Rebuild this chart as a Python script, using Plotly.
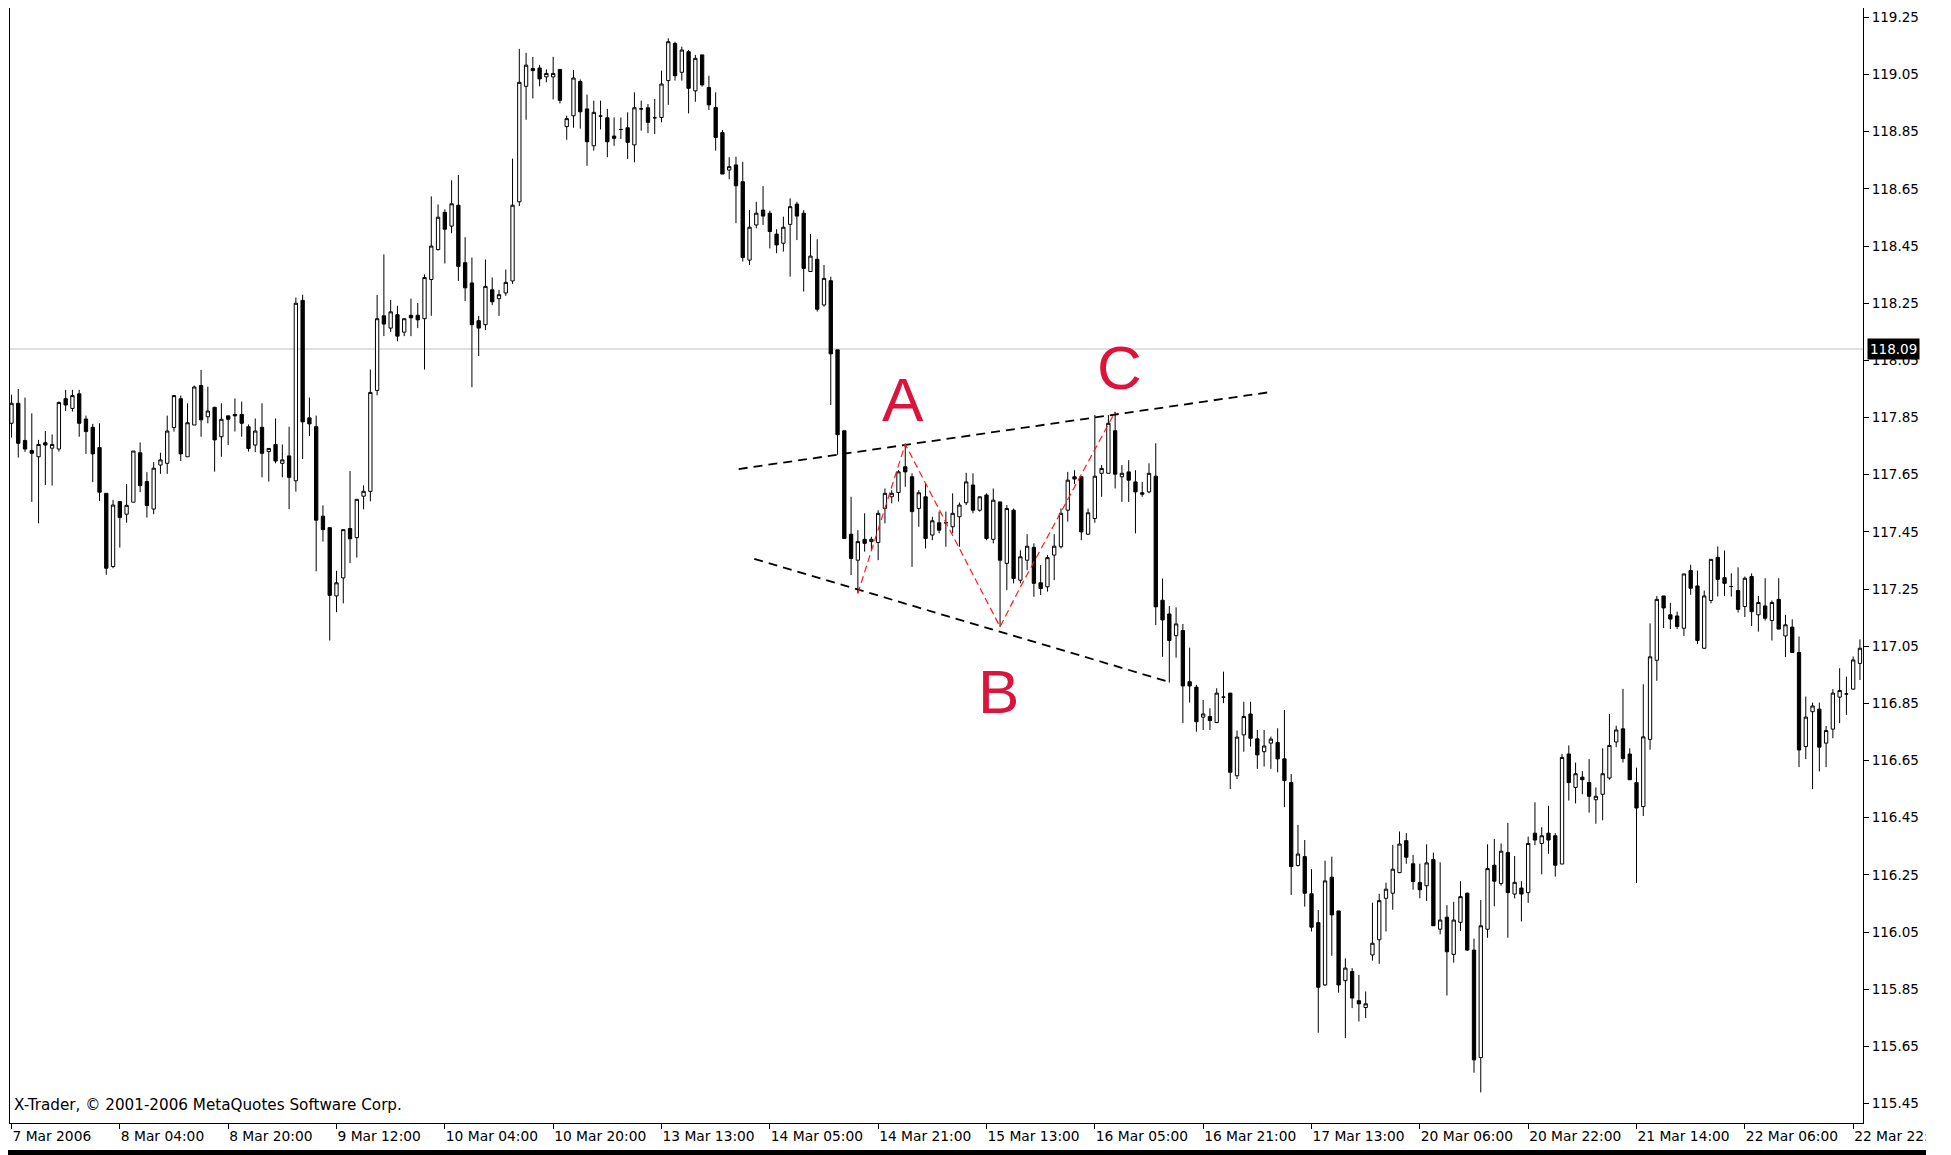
import plotly.graph_objects as go

# Hourly USDJPY-style candles (bar index 0..273)
OPEN = [
    117.83, 117.90, 117.77, 117.735, 117.713, 117.762, 117.743, 117.74, 117.916, 117.882,
    117.933, 117.845, 117.816, 117.745, 117.585, 117.329, 117.556, 117.512, 117.554, 117.727,
    117.626, 117.53, 117.684, 117.69, 117.815, 117.916, 117.713, 117.824, 117.962, 117.853,
    117.886, 117.783, 117.856, 117.861, 117.861, 117.818, 117.754, 117.816, 117.731, 117.756,
    117.69, 117.716, 117.629, 118.26, 117.849, 117.818, 117.505, 117.465, 117.226, 117.289,
    117.462, 117.43, 117.575, 117.592, 117.945, 118.206, 118.163, 118.21, 118.149, 118.208,
    118.208, 118.196, 118.333, 118.438, 118.568, 118.52, 118.593, 118.392, 118.321, 118.189,
    118.175, 118.297, 118.266, 118.286, 118.328, 118.605, 119.009, 119.071, 119.073, 119.042,
    119.042, 119.068, 118.868, 118.906, 119.026, 118.93, 118.801, 118.905, 118.899, 118.835,
    118.858, 118.864, 118.804, 118.93, 118.934, 118.899, 118.90, 119.029, 119.159, 119.058,
    119.13, 118.993, 119.119, 119.005, 118.935, 118.847, 118.716, 118.734, 118.675, 118.401,
    118.524, 118.576, 118.565, 118.492, 118.46, 118.526, 118.597, 118.565, 118.361, 118.404,
    118.244, 118.329, 118.087, 117.804, 117.442, 117.351, 117.424, 117.416, 117.413, 117.532,
    117.573, 117.588, 117.678, 117.643, 117.532, 117.573, 117.439, 117.482, 117.482, 117.468,
    117.503, 117.552, 117.614, 117.526, 117.579, 117.424, 117.555, 117.34, 117.526, 117.281,
    117.351, 117.396, 117.272, 117.258, 117.369, 117.398, 117.526, 117.643, 117.643, 117.442,
    117.497, 117.655, 117.655, 117.804, 117.643, 117.66, 117.625, 117.587, 117.59, 117.645,
    117.211, 117.163, 117.087, 117.105, 116.926, 116.907, 116.802, 116.804, 116.783, 116.872,
    116.886, 116.597, 116.74, 116.813, 116.726, 116.681, 116.711, 116.713, 116.656, 116.573,
    116.283, 116.314, 116.184, 116.083, 115.865, 116.242, 116.124, 115.88, 115.912, 115.81,
    115.786, 115.97, 116.023, 116.168, 116.186, 116.258, 116.37, 116.289, 116.223, 116.212,
    116.304, 116.06, 116.102, 115.972, 116.084, 116.186, 115.987, 115.611, 116.06, 116.284,
    116.22, 116.328, 116.183, 116.204, 116.188, 116.396, 116.36, 116.396, 116.387, 116.288,
    116.673, 116.556, 116.592, 116.573, 116.513, 116.532, 116.589, 116.715, 116.761, 116.673,
    116.573, 116.489, 116.724, 117.001, 117.226, 117.16, 117.156, 117.113, 117.315, 117.261,
    117.043, 117.21, 117.361, 117.29, 117.259, 117.245, 117.189, 117.294, 117.16, 117.191,
    117.14, 117.214, 117.086, 117.117, 117.028, 116.699, 116.821, 116.83, 116.711, 116.76,
    116.872, 116.883, 116.90, 116.99,
]
HIGH = [
    117.93, 117.95, 117.92, 117.865, 117.772, 117.803, 117.791, 117.906, 117.947, 117.947,
    117.947, 117.857, 117.828, 117.83, 117.585, 117.562, 117.556, 117.617, 117.733, 117.763,
    117.659, 117.694, 117.727, 117.857, 117.927, 117.927, 117.90, 117.962, 118.017, 117.958,
    117.888, 117.90, 117.856, 117.917, 117.906, 117.826, 117.847, 117.90, 117.742, 117.847,
    117.756, 117.818, 118.27, 118.28, 117.92, 117.857, 117.543, 117.465, 117.314, 117.458,
    117.663, 117.564, 117.613, 118.018, 118.279, 118.421, 118.262, 118.241, 118.196, 118.266,
    118.251, 118.351, 118.624, 118.596, 118.579, 118.68, 118.699, 118.481, 118.41, 118.206,
    118.403, 118.34, 118.297, 118.368, 118.756, 119.14, 119.126, 119.112, 119.084, 119.068,
    119.112, 119.068, 118.906, 119.066, 119.033, 118.98, 118.959, 118.959, 118.93, 118.90,
    118.90, 118.918, 118.988, 118.959, 118.947, 118.965, 119.064, 119.177, 119.165, 119.148,
    119.136, 119.119, 119.119, 119.046, 118.988, 118.856, 118.761, 118.763, 118.745, 118.576,
    118.605, 118.66, 118.574, 118.509, 118.553, 118.617, 118.605, 118.576, 118.492, 118.474,
    118.384, 118.343, 118.087, 117.804, 117.573, 117.456, 117.515, 117.433, 117.526, 117.602,
    117.596, 117.666, 117.76, 117.655, 117.596, 117.62, 117.503, 117.521, 117.521, 117.585,
    117.553, 117.657, 117.655, 117.573, 117.585, 117.602, 117.555, 117.544, 117.532, 117.386,
    117.442, 117.41, 117.334, 117.369, 117.442, 117.532, 117.66, 117.666, 117.643, 117.532,
    117.859, 117.684, 117.859, 117.87, 117.684, 117.701, 117.666, 117.625, 117.69, 117.76,
    117.287, 117.191, 117.186, 117.128, 117.045, 116.915, 116.862, 116.833, 116.903, 116.961,
    116.886, 116.755, 116.856, 116.856, 116.757, 116.757, 116.734, 116.763, 116.827, 116.603,
    116.425, 116.372, 116.27, 116.127, 116.30, 116.314, 116.124, 115.958, 115.924, 115.90,
    115.842, 116.153, 116.184, 116.223, 116.355, 116.402, 116.396, 116.32, 116.289, 116.357,
    116.328, 116.294, 116.144, 116.156, 116.228, 116.188, 116.027, 116.162, 116.357, 116.376,
    116.36, 116.432, 116.316, 116.228, 116.384, 116.504, 116.417, 116.492, 116.396, 116.673,
    116.703, 116.643, 116.613, 116.655, 116.556, 116.693, 116.813, 116.772, 116.901, 116.693,
    116.625, 116.917, 117.13, 117.226, 117.226, 117.202, 117.171, 117.303, 117.335, 117.315,
    117.245, 117.354, 117.399, 117.385, 117.305, 117.326, 117.294, 117.305, 117.226, 117.288,
    117.21, 117.288, 117.16, 117.144, 117.084, 116.874, 116.853, 116.853, 116.771, 116.90,
    116.973, 116.944, 117.014, 117.074,
]
LOW = [
    117.78, 117.71, 117.73, 117.555, 117.48, 117.614, 117.612, 117.731, 117.873, 117.871,
    117.783, 117.723, 117.624, 117.558, 117.30, 117.323, 117.395, 117.482, 117.554, 117.589,
    117.50, 117.512, 117.653, 117.653, 117.801, 117.698, 117.713, 117.824, 117.783, 117.83,
    117.661, 117.713, 117.754, 117.801, 117.783, 117.731, 117.729, 117.641, 117.626, 117.69,
    117.641, 117.53, 117.591, 117.705, 117.785, 117.312, 117.416, 117.07, 117.169, 117.20,
    117.341, 117.36, 117.529, 117.557, 117.928, 118.135, 118.149, 118.117, 118.135, 118.135,
    118.163, 118.018, 118.206, 118.434, 118.389, 118.495, 118.328, 118.258, 117.956, 118.065,
    118.156, 118.244, 118.206, 118.276, 118.318, 118.59, 118.892, 118.967, 119.009, 119.023,
    118.963, 118.949, 118.822, 118.864, 118.861, 118.731, 118.784, 118.858, 118.761, 118.801,
    118.825, 118.755, 118.743, 118.854, 118.845, 118.842, 118.883, 118.944, 119.029, 119.029,
    118.914, 118.955, 119.008, 118.926, 118.784, 118.702, 118.684, 118.53, 118.396, 118.384,
    118.512, 118.524, 118.442, 118.425, 118.431, 118.343, 118.471, 118.291, 118.361, 118.221,
    118.238, 117.894, 117.72, 117.427, 117.299, 117.235, 117.381, 117.386, 117.351, 117.48,
    117.55, 117.556, 117.608, 117.328, 117.468, 117.392, 117.421, 117.445, 117.398, 117.445,
    117.398, 117.544, 117.515, 117.521, 117.421, 117.41, 117.118, 117.246, 117.27, 117.27,
    117.316, 117.223, 117.229, 117.241, 117.281, 117.392, 117.486, 117.617, 117.421, 117.439,
    117.482, 117.573, 117.655, 117.602, 117.555, 117.555, 117.445, 117.573, 117.585, 117.124,
    117.013, 116.923, 117.01, 116.781, 116.853, 116.751, 116.757, 116.757, 116.781, 116.851,
    116.55, 116.585, 116.681, 116.699, 116.621, 116.629, 116.621, 116.609, 116.487, 116.18,
    116.279, 116.139, 116.052, 115.698, 115.862, 115.967, 115.838, 115.679, 115.784, 115.737,
    115.749, 115.95, 115.939, 116.052, 116.128, 116.256, 116.289, 116.198, 116.168, 116.159,
    116.072, 116.042, 115.828, 115.943, 116.054, 115.984, 115.558, 115.489, 116.03, 116.14,
    116.212, 116.03, 116.168, 116.087, 116.152, 116.354, 116.252, 116.324, 116.244, 116.288,
    116.51, 116.50, 116.532, 116.468, 116.429, 116.441, 116.583, 116.697, 116.643, 116.583,
    116.222, 116.456, 116.688, 116.929, 117.114, 117.11, 117.11, 117.086, 117.23, 117.058,
    117.041, 117.20, 117.224, 117.226, 117.224, 117.168, 117.152, 117.121, 117.101, 117.14,
    117.07, 117.11, 117.012, 117.028, 116.627, 116.655, 116.55, 116.612, 116.627, 116.728,
    116.781, 116.81, 116.897, 116.932,
]
CLOSE = [
    117.90, 117.76, 117.74, 117.725, 117.756, 117.754, 117.756, 117.903, 117.894, 117.927,
    117.83, 117.801, 117.723, 117.589, 117.323, 117.544, 117.50, 117.543, 117.733, 117.612,
    117.542, 117.673, 117.702, 117.803, 117.927, 117.723, 117.832, 117.957, 117.842, 117.873,
    117.772, 117.844, 117.844, 117.856, 117.83, 117.742, 117.803, 117.725, 117.742, 117.698,
    117.702, 117.641, 118.25, 117.835, 117.828, 117.491, 117.458, 117.228, 117.272, 117.458,
    117.426, 117.564, 117.592, 117.938, 118.196, 118.177, 118.22, 118.135, 118.196, 118.199,
    118.192, 118.34, 118.45, 118.551, 118.509, 118.598, 118.379, 118.304, 118.175, 118.163,
    118.309, 118.255, 118.28, 118.323, 118.593, 119.023, 119.083, 119.064, 119.035, 119.054,
    119.054, 118.96, 118.896, 119.038, 118.92, 118.815, 118.918, 118.905, 118.815, 118.827,
    118.858, 118.813, 118.934, 118.93, 118.883, 118.899, 119.017, 119.165, 119.046, 119.136,
    119.002, 119.107, 119.014, 118.944, 118.83, 118.702, 118.728, 118.661, 118.41, 118.516,
    118.565, 118.555, 118.501, 118.454, 118.516, 118.588, 118.555, 118.372, 118.415, 118.229,
    118.337, 118.073, 117.79, 117.427, 117.357, 117.416, 117.41, 117.424, 117.515, 117.585,
    117.585, 117.66, 117.66, 117.521, 117.587, 117.427, 117.489, 117.456, 117.482, 117.515,
    117.544, 117.625, 117.526, 117.573, 117.427, 117.561, 117.351, 117.532, 117.287, 117.363,
    117.40, 117.27, 117.252, 117.36, 117.40, 117.515, 117.631, 117.635, 117.45, 117.517,
    117.645, 117.672, 117.83, 117.652, 117.655, 117.631, 117.59, 117.582, 117.655, 117.188,
    117.142, 117.07, 117.128, 116.911, 116.911, 116.786, 116.813, 116.79, 116.886, 116.872,
    116.609, 116.732, 116.804, 116.728, 116.67, 116.701, 116.725, 116.656, 116.58, 116.279,
    116.323, 116.186, 116.067, 115.857, 116.229, 116.11, 115.865, 115.924, 115.819, 115.799,
    115.799, 116.011, 116.16, 116.20, 116.27, 116.358, 116.312, 116.227, 116.198, 116.292,
    116.072, 116.092, 115.981, 116.092, 116.174, 115.987, 115.603, 116.072, 116.272, 116.228,
    116.333, 116.188, 116.224, 116.183, 116.36, 116.372, 116.387, 116.372, 116.284, 116.661,
    116.573, 116.604, 116.583, 116.525, 116.525, 116.604, 116.703, 116.757, 116.657, 116.583,
    116.484, 116.733, 117.013, 117.214, 117.184, 117.145, 117.119, 117.303, 117.253, 117.07,
    117.226, 117.354, 117.284, 117.27, 117.259, 117.179, 117.288, 117.171, 117.203, 117.148,
    117.203, 117.11, 117.125, 117.028, 116.687, 116.802, 116.841, 116.697, 116.755, 116.886,
    116.895, 116.883, 117.002, 117.043,
]
BARS = list(range(len(OPEN)))

TICK_BARS = [0, 16, 32, 48, 64, 80, 96, 112, 128, 144, 160, 176, 192, 208, 224, 240, 256, 272]
TICK_TEXT = [
    "7 Mar 2006", "8 Mar 04:00", "8 Mar 20:00", "9 Mar 12:00", "10 Mar 04:00", "10 Mar 20:00",
    "13 Mar 13:00", "14 Mar 05:00", "14 Mar 21:00", "15 Mar 13:00", "16 Mar 05:00", "16 Mar 21:00",
    "17 Mar 13:00", "20 Mar 06:00", "20 Mar 22:00", "21 Mar 14:00", "22 Mar 06:00", "22 Mar 22:00",
]
PRICE_TICKS = [
    115.45, 115.65, 115.85, 116.05, 116.25, 116.45, 116.65, 116.85, 117.05, 117.25,
    117.45, 117.65, 117.85, 118.05, 118.25, 118.45, 118.65, 118.85, 119.05, 119.25,
]
LAST_PRICE = 118.09

# hand-drawn analysis objects (bar index, price)
UPPER_X = [107.4, 186.1]
UPPER_Y = [117.670, 117.940]
LOWER_X = [109.7, 171.0]
LOWER_Y = [117.356, 116.925]
WAVE_X = [125, 132, 146, 149, 163]
WAVE_Y = [117.235, 117.757, 117.118, 117.257, 117.870]
WAVE_LABELS = ["A", "B", "C"]
WAVE_LABEL_X = [131.7, 145.8, 163.6]
WAVE_LABEL_Y = [117.914, 116.890, 118.025]

INK = "black"
FONT = "DejaVu Sans"
LABEL_RED = "#dc143c"

fig = go.Figure()
fig.add_hline(y=LAST_PRICE, line_color="#c0c0c0", line_width=1, layer="below")
fig.add_trace(
    go.Candlestick(
        x=BARS, open=OPEN, high=HIGH, low=LOW, close=CLOSE,
        increasing=dict(line=dict(color=INK, width=1), fillcolor="white"),
        decreasing=dict(line=dict(color=INK, width=1), fillcolor=INK),
        whiskerwidth=0, name="USDJPY,H1",
    )
)
for xs, ys in ((UPPER_X, UPPER_Y), (LOWER_X, LOWER_Y)):
    fig.add_trace(
        go.Scatter(x=xs, y=ys, mode="lines", hoverinfo="skip",
                   line=dict(color=INK, width=1.8, dash="9px,6px"))
    )
fig.add_trace(
    go.Scatter(x=WAVE_X, y=WAVE_Y, mode="lines", hoverinfo="skip",
               line=dict(color="#ff1a1a", width=1.2, dash="7px,4px"))
)
for lab, lx, ly in zip(WAVE_LABELS, WAVE_LABEL_X, WAVE_LABEL_Y):
    fig.add_annotation(x=lx, y=ly, text=lab, showarrow=False,
                       font=dict(family="Liberation Sans", size=62, color=LABEL_RED))

# current price marker on the price scale
fig.add_annotation(x=1, xref="paper", xanchor="left", xshift=4, y=LAST_PRICE, yref="y",
                   text=f"{LAST_PRICE:.2f}", showarrow=False, bgcolor=INK, borderpad=2,
                   font=dict(family=FONT, size=13.5, color="white"))
fig.add_annotation(x=0, xref="paper", xanchor="left", xshift=2, y=0, yref="paper",
                   yanchor="bottom", yshift=7, showarrow=False,
                   text="X-Trader, © 2001-2006 MetaQuotes Software Corp.",
                   font=dict(family=FONT, size=15.2, color=INK))

# window frame bits below the chart
fig.add_shape(type="rect", xref="paper", yref="paper", x0=-0.0016, x1=1.034,
              y0=-0.0242, y1=-0.035, fillcolor=INK, line_width=0, layer="above")
fig.add_shape(type="rect", xref="paper", yref="paper", x0=1.034, x1=1.06,
              y0=-0.001, y1=-0.035, fillcolor="white", line_width=0, layer="above")

# the page body has an 8px margin, so the figure is sized to fit inside it
fig.update_layout(
    width=1943, height=1147,
    margin=dict(l=2, r=88, t=0, b=32),
    paper_bgcolor="white", plot_bgcolor="white",
    showlegend=False,
    font=dict(family=FONT, color=INK),
)
fig.update_xaxes(
    range=[-0.22, 273.45], tickvals=TICK_BARS, ticktext=TICK_TEXT,
    ticks="outside", ticklen=5, tickcolor=INK, ticklabelposition="outside right",
    tickfont=dict(family=FONT, size=13.8, color=INK),
    showline=True, linecolor=INK, linewidth=1,
    showgrid=False, zeroline=False, rangeslider=dict(visible=False),
)
fig.update_yaxes(
    side="right", range=[115.382, 119.283], tickvals=PRICE_TICKS, tickformat=".2f",
    ticks="outside", ticklen=5, tickcolor=INK,
    tickfont=dict(family=FONT, size=13.5, color=INK),
    showline=True, mirror=True, linecolor=INK, linewidth=1,
    showgrid=False, zeroline=False,
)

fig.write_html("out.html")
